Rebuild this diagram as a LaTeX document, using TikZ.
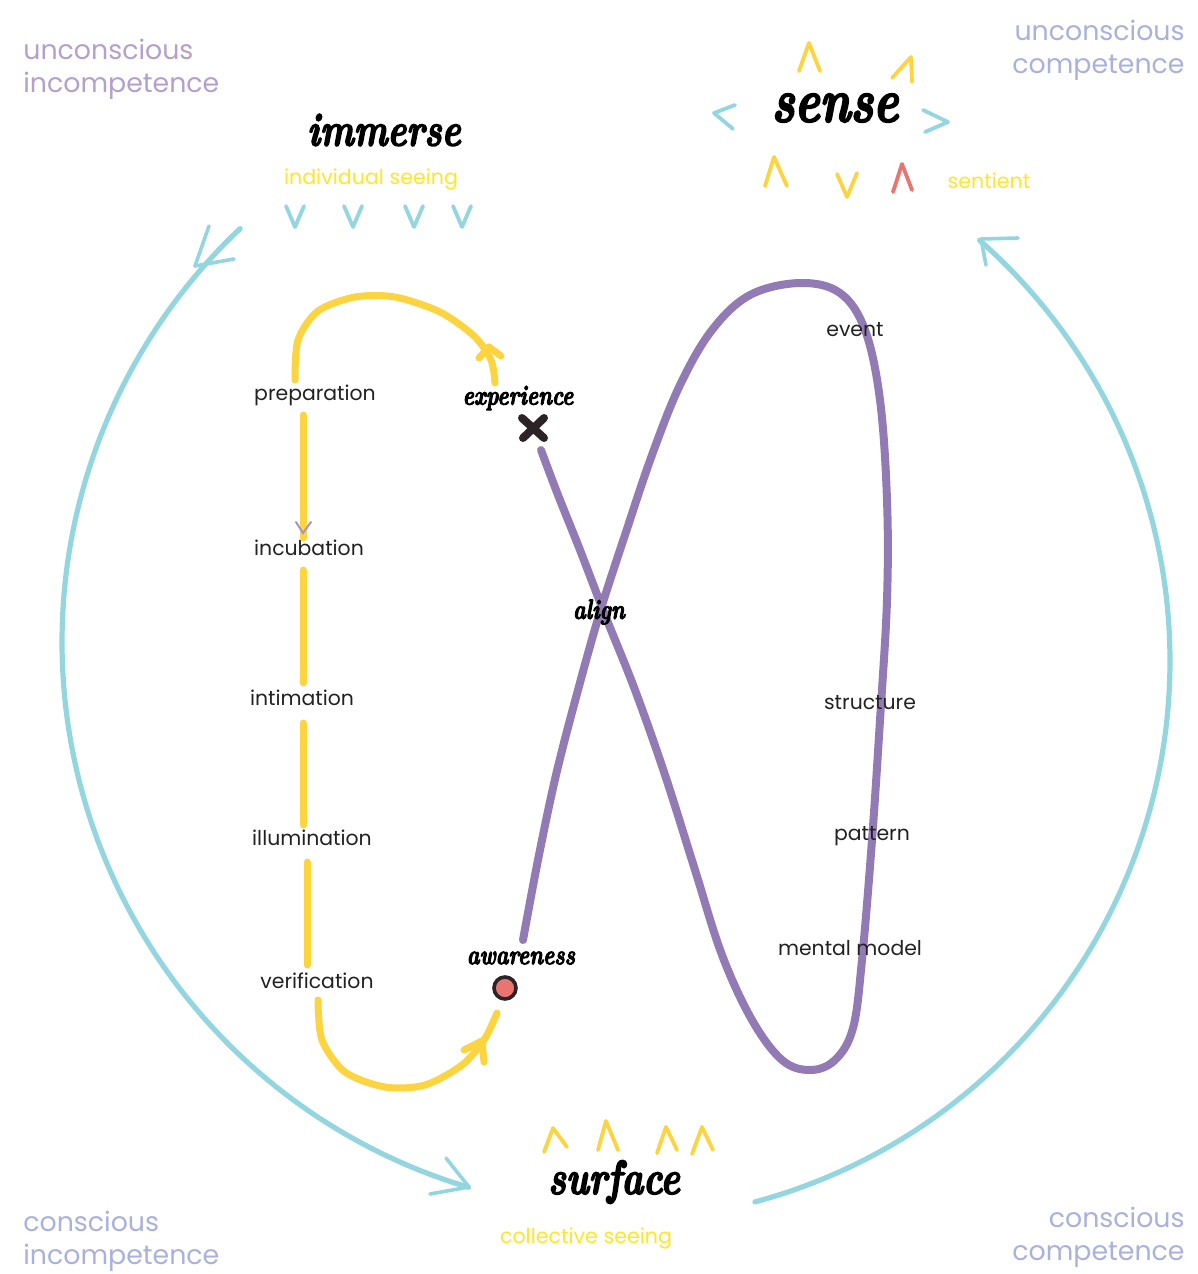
\documentclass[tikz,border=0pt]{standalone}
\usepackage{fontspec}
\usetikzlibrary{calc}
\setmainfont{Poppins}
\newfontfamily\scriptbold{lmroman10-bolditalic.otf}[FakeBold=3, FakeStretch=0.76]
\definecolor{cyanline}{HTML}{94D6E0}
\definecolor{purpleline}{HTML}{927BB5}
\definecolor{yellowline}{HTML}{FCD440}
\definecolor{yellowtext}{HTML}{FFE626}
\definecolor{redmark}{HTML}{E8756F}
\definecolor{darkmark}{HTML}{2B2326}
\definecolor{cornerpurple}{HTML}{B3A0CC}
\definecolor{cornerblue}{HTML}{A9B1DC}
\definecolor{labeltext}{HTML}{222222}
\tikzset{
  cycle/.style={draw=cyanline, line width=2.6pt, line cap=round},
  barb/.style={draw=cyanline, line width=1.8pt, line cap=round},
  loopline/.style={draw=purpleline, line width=4pt, line cap=round},
  stage/.style={draw=yellowline, line width=3.5pt, line cap=round},
  chev/.style={line width=1.9pt, line cap=round, line join=round},
  stagelabel/.style={font=\fontsize{10.2}{12}\selectfont, text=labeltext, inner sep=0pt},
  title/.style={font=\scriptbold\fontsize{23.5}{25}\selectfont, text=black, inner sep=0pt},
  smalltitle/.style={font=\scriptbold\fontsize{14}{16}\selectfont, text=black, inner sep=0pt},
  seeing/.style={font=\fontsize{10.3}{12}\selectfont, text=yellowtext, inner sep=0pt},
  corner/.style={font=\fontsize{13.4}{16.5}\selectfont, inner sep=0pt, align=left}
}
\begin{document}
\begin{tikzpicture}[x=0.5pt,y=-0.5pt]
\path[use as bounding box, fill=white] (0,0) rectangle (1198,1274);

% corner labels
\node[corner, text=cornerpurple, anchor=north west] (uci) at (23,39) {unconscious\\incompetence};
\node[corner, text=cornerblue, anchor=north east, align=right] (ucc) at (1185,20) {unconscious\\competence};
\node[corner, text=cornerblue, anchor=north west] (ci) at (23,1211) {conscious\\incompetence};
\node[corner, text=cornerblue, anchor=north east, align=right] (cc) at (1185,1207) {conscious\\competence};

% titles
\node[title] (immerse) at (384,130) {immerse};
\node[seeing] (indiv) at (371,179) {individual seeing};
\node[title, font=\scriptbold\fontsize{31}{33}\selectfont] (sense) at (835,108) {sense};
\node[seeing] (sentient) at (989,181) {sentient};
\node[title, font=\scriptbold\fontsize{24}{26}\selectfont] (surface) at (614,1182) {surface};
\node[seeing] (collective) at (586,1238) {collective seeing};

% chevrons under immerse
\foreach \cx in {295,353,414,462}
  \draw[chev, draw=cyanline] (\cx-9,206) -- (\cx,227) -- (\cx+9,206);

% chevrons around sense
\draw[chev, draw=yellowline] (799,71) -- (809,43) -- (820,71);
\draw[chev, draw=yellowline] (892,78) -- (911,57) -- (912,82);
\draw[chev, draw=cyanline] (735,105) -- (714,113) -- (733,129);
\draw[chev, draw=cyanline] (923,110) -- (948,122) -- (925,132);
\draw[chev, draw=yellowline] (765,186) -- (774,157) -- (787,186);
\draw[chev, draw=yellowline] (837,174) -- (847,197) -- (857,173);
\draw[chev, draw=redmark] (893,192) -- (902,164) -- (912,190);

% chevrons above surface
\draw[chev, draw=yellowline] (544,1152) -- (553,1128) -- (567,1147);
\draw[chev, draw=yellowline] (598,1150) -- (606,1121) -- (618,1150);
\draw[chev, draw=yellowline] (657,1153) -- (666,1127) -- (677,1150);
\draw[chev, draw=yellowline] (692,1154) -- (702,1127) -- (713,1150);

% outer cycle: immerse -> surface (left) and surface -> sense (right)
\coordinate (leftstart) at (240,228);
\coordinate (lefttip) at (469,1187);
\coordinate (rightstart) at (755,1202);
\coordinate (righttip) at (981,239);
\draw[cycle] plot[domain=226.6:106.6, samples=90, smooth] ({631+569*cos(\x)},{642+569*sin(\x)});
\draw[barb] (195,266) -- (209,226);
\draw[barb] (195,266) -- (234,259);
\draw[barb] (lefttip) -- (446,1158);
\draw[barb] (lefttip) -- (430,1194);
\draw[cycle] plot[domain=75:-48.7, samples=90, smooth] ({610+560*cos(\x)},{661+560*sin(\x)});
\draw[barb] (righttip) -- (1018,238);
\draw[barb] (righttip) -- (986,265);

% creative process stages
\node[stagelabel] (prep) at (315,395) {preparation};
\node[stagelabel] (incub) at (309,548) {incubation};
\node[stagelabel] (intim) at (302,698) {intimation};
\node[stagelabel] (illum) at (312,838) {illumination};
\node[stagelabel] (verif) at (317,981) {verification};

\coordinate (p1) at (303,415); \coordinate (p2) at (303,538);
\coordinate (p3) at (303,570); \coordinate (p4) at (303,683);
\coordinate (p5) at (303,723); \coordinate (p6) at (303,825);
\coordinate (p7) at (307,862); \coordinate (p8) at (307,965);
\draw[stage] (p1) -- (p2);
\draw[stage] (p3) -- (p4);
\draw[stage] (p5) -- (p6);
\draw[stage] (p7) -- (p8);
\draw[draw=purpleline!80, line width=1pt, line cap=round] (296,522) -- (303,533) -- (311,522);

% arcs into experience and awareness
\draw[stage] plot[smooth] coordinates {(295,380) (298,340) (318,311) (355,297) (395,297) (440,312) (474,336) (491,360) (495,383)};
\draw[stage] (489,347) -- (479,358);
\draw[stage] (489,347) -- (501,356);
\draw[stage] plot[smooth] coordinates {(318,1000) (322,1040) (345,1072) (385,1087) (425,1085) (462,1065) (484,1040) (497,1013)};
\draw[stage] (482,1041) -- (464,1050);
\draw[stage] (482,1041) -- (484,1062);

% figure-of-eight loop
\draw[loopline] plot[smooth, tension=0.6] coordinates {(523,940) (538,860) (556,775) (578,690) (600,612) (625,535) (652,455) (680,385) (712,330) (750,295) (800,283) (840,293) (865,330) (880,400) (887,500) (887,600) (880,720) (872,840) (862,960) (853,1028) (835,1060) (810,1070) (782,1060) (752,1020) (722,955) (695,870) (665,775) (635,690) (605,615) (580,550) (558,495) (541,450)};
\node[smalltitle] (experience) at (518,398) {experience};
\node[smalltitle] (align) at (599,612) {align};
\node[smalltitle] (awareness) at (521,958) {awareness};

% system levels
\node[stagelabel] (event) at (855,330) {event};
\node[stagelabel] (structure) at (870,703) {structure};
\node[stagelabel] (pattern) at (872,836) {pattern};
\node[stagelabel] (mental) at (850,948) {mental model};

% markers
\coordinate (xmark) at (533,428);
\draw[draw=darkmark, line width=4pt, line cap=round] ($(xmark)+(-11,-10)$) -- ($(xmark)+(11,10)$);
\draw[draw=darkmark, line width=4pt, line cap=round] ($(xmark)+(-10,10)$) -- ($(xmark)+(11,-10)$);
\node[circle, draw=darkmark, fill=redmark, line width=1.8pt, minimum size=11pt, inner sep=0pt] (dot) at (505,988) {};
\end{tikzpicture}
\end{document}
